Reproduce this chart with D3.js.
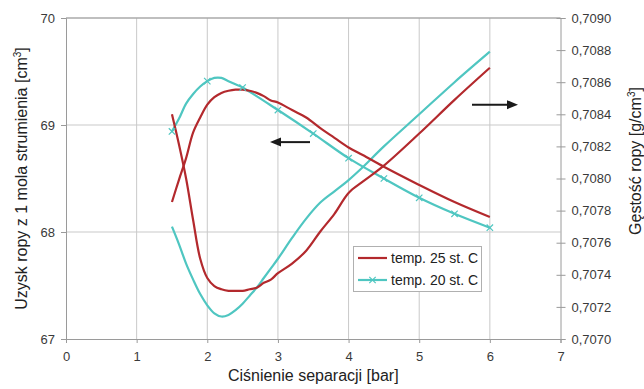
<!DOCTYPE html>
<html>
<head>
<meta charset="utf-8">
<script src="https://cdn.jsdelivr.net/npm/d3@7"></script>
<style>
  html, body { margin: 0; padding: 0; background: #fff; }
  svg { display: block; font-family: "Liberation Sans", Arial, sans-serif; }
</style>
</head>
<body>
<svg id="chart" width="644" height="389"></svg>
<script>
// Separator pressure [bar] for the densely sampled curves
const pressure = [1.5, 1.6, 1.7, 1.8, 1.9, 2.0, 2.1, 2.2, 2.3, 2.4, 2.5, 2.6, 2.7, 2.8, 2.9,
                  3.0, 3.2, 3.4, 3.6, 3.8, 4.0, 4.2, 4.5, 5.0, 5.5, 6.0];

// Oil yield per 1 mol of stream [cm3], 25 °C
const yield25 = [68.28, 68.49, 68.69, 68.93, 69.07, 69.19, 69.26, 69.30, 69.32, 69.33, 69.33, 69.32, 69.30,
                 69.27, 69.23, 69.21, 69.14, 69.07, 68.97, 68.88, 68.79, 68.72, 68.61, 68.44, 68.28, 68.14];

// Oil density [g/cm3], 25 °C
const density25 = [0.70840, 0.70821, 0.70800, 0.70774, 0.70750, 0.70738, 0.70733, 0.70731, 0.70730,
                   0.70730, 0.70730, 0.70731, 0.70732, 0.70735, 0.70737, 0.70741, 0.70747, 0.70755,
                   0.70767, 0.70778, 0.70791, 0.70798, 0.70808, 0.70828, 0.70849, 0.70869];

// Oil density [g/cm3], 20 °C
const density20 = [0.70770, 0.70759, 0.70747, 0.70737, 0.70728, 0.70721, 0.70716, 0.70714, 0.70715,
                   0.70718, 0.70722, 0.70727, 0.70732, 0.70738, 0.70744, 0.70750, 0.70763, 0.70775,
                   0.70785, 0.70792, 0.70799, 0.70807, 0.70820, 0.70840, 0.70860, 0.70879];

// Oil yield, 20 °C (measured every 0.5 bar, denser near the maximum)
const pressure20 = [1.5, 1.6, 1.7, 1.8, 1.9, 2.0, 2.1, 2.2, 2.3, 2.4, 2.5, 3.0, 3.5, 4.0, 4.5, 5.0, 5.5, 6.0];
const yield20 = [68.94, 69.06, 69.20, 69.29, 69.36, 69.41, 69.44, 69.44, 69.41, 69.38, 69.35,
                 69.14, 68.92, 68.69, 68.50, 68.32, 68.17, 68.04];

// Axis ticks
const xTicks = [0, 1, 2, 3, 4, 5, 6, 7];
const yLeftTicks = [67, 68, 69, 70];
const yRightTicks = [0.7070, 0.7072, 0.7074, 0.7076, 0.7078, 0.7080, 0.7082, 0.7084, 0.7086, 0.7088, 0.7090];

const seriesNames = ["temp. 25 st. C", "temp. 20 st. C"];
const colors = { t25: "#b3292d", t20: "#4fc6c1" };

const svg = d3.select("#chart");
const pLeft = 66, pRight = 560.5, pTop = 18, pBottom = 339;

const x = d3.scaleLinear().domain([0, 7]).range([pLeft, pRight]);
const yL = d3.scaleLinear().domain([67, 70]).range([pBottom, pTop]);
const yR = d3.scaleLinear().domain([0.7070, 0.7090]).range([pBottom, pTop]);

const grid = svg.append("g");
// vertical grid lines
grid.selectAll("line.v").data(xTicks.filter(t => t > 0 && t < 7)).join("line")
  .attr("x1", d => x(d)).attr("x2", d => x(d))
  .attr("y1", pTop).attr("y2", pBottom)
  .attr("stroke", "#c9c9c9").attr("stroke-width", 1);
// horizontal grid lines on the left scale
grid.selectAll("line.h").data(yLeftTicks.filter(t => t > 67)).join("line")
  .attr("x1", pLeft).attr("x2", pRight)
  .attr("y1", d => yL(d)).attr("y2", d => yL(d))
  .attr("stroke", "#c9c9c9").attr("stroke-width", 1);

const tickColor = "#9a9a9a";
const textColor = "#3a3a3a";

// bottom axis
const xAxis = svg.append("g").attr("transform", `translate(0,${pBottom})`)
  .call(d3.axisBottom(x).tickValues(xTicks).tickFormat(d3.format("d")).tickSize(4).tickPadding(9));
// left axis
const yAxisL = svg.append("g").attr("transform", `translate(${pLeft},0)`)
  .call(d3.axisLeft(yL).tickValues(yLeftTicks).tickFormat(d3.format("d")).tickSize(5).tickPadding(6));
// right axis
const commaFmt = d => d3.format(".4f")(d).replace(".", ",");
const yAxisR = svg.append("g").attr("transform", `translate(${pRight},0)`)
  .call(d3.axisRight(yR).tickValues(yRightTicks).tickFormat(commaFmt).tickSize(5).tickPadding(6));
yAxisR.selectAll(".tick line").attr("x1", -4);

[xAxis, yAxisL, yAxisR].forEach(a => {
  a.select(".domain").attr("stroke", tickColor).attr("stroke-width", 1);
  a.selectAll(".tick line").attr("stroke", tickColor);
  a.selectAll(".tick text").attr("fill", textColor).style("font-size", "13px")
    .style("font-family", "'Liberation Sans', Arial, sans-serif");
});
// top frame line
svg.append("line").attr("x1", pLeft).attr("x2", pRight).attr("y1", pTop).attr("y2", pTop)
  .attr("stroke", tickColor).attr("stroke-width", 1);

// curves
const lineL = (xs, ys) => d3.line().x((d, i) => x(xs[i])).y(d => yL(d)).curve(d3.curveCatmullRom.alpha(0.5))(ys);
const lineR = (xs, ys) => d3.line().x((d, i) => x(xs[i])).y(d => yR(d)).curve(d3.curveCatmullRom.alpha(0.5))(ys);

const plot = svg.append("g").attr("fill", "none").attr("stroke-width", 2.2)
  .attr("stroke-linejoin", "round").attr("stroke-linecap", "butt");
plot.append("path").attr("d", lineR(pressure, density20)).attr("stroke", colors.t20);
plot.append("path").attr("d", lineL(pressure20, yield20)).attr("stroke", colors.t20);
plot.append("path").attr("d", lineR(pressure, density25)).attr("stroke", colors.t25);
plot.append("path").attr("d", lineL(pressure, yield25)).attr("stroke", colors.t25);

// x-shaped markers on the 20 °C yield curve, every 0.5 bar
const markerPts = pressure20.map((p, i) => ({ p, v: yield20[i] }))
  .filter(d => Math.abs(d.p * 2 - Math.round(d.p * 2)) < 1e-9);
const cross = (cx, cy, s) => `M${cx - s},${cy - s}L${cx + s},${cy + s}M${cx - s},${cy + s}L${cx + s},${cy - s}`;
svg.append("g").selectAll("path").data(markerPts).join("path")
  .attr("d", d => cross(x(d.p), yL(d.v), 3.2))
  .attr("stroke", colors.t20).attr("stroke-width", 1.2).attr("fill", "none");

// arrows pointing to the relevant axis
const arrow = (x1, x2, yy) => {
  const dir = Math.sign(x2 - x1);
  const g = svg.append("g");
  g.append("line").attr("x1", x1).attr("x2", x2 - dir * 8).attr("y1", yy).attr("y2", yy)
    .attr("stroke", "#1a1a1a").attr("stroke-width", 2);
  g.append("path").attr("d", `M${x2},${yy}L${x2 - dir * 11},${yy - 4.5}L${x2 - dir * 11},${yy + 4.5}Z`)
    .attr("fill", "#1a1a1a");
};
arrow(310, 270, yL(68.84));
arrow(472, 518, yR(0.70846));

// legend
const lg = svg.append("g");
lg.append("rect").attr("x", 353.5).attr("y", 246.5).attr("width", 128).attr("height", 45)
  .attr("fill", "#fff").attr("stroke", "#b0b0b0").attr("stroke-width", 1);
const legendRows = [
  { name: seriesNames[0], color: colors.t25, marker: false, y: 258 },
  { name: seriesNames[1], color: colors.t20, marker: true, y: 280 }
];
legendRows.forEach(r => {
  lg.append("line").attr("x1", 358).attr("x2", 387).attr("y1", r.y).attr("y2", r.y)
    .attr("stroke", r.color).attr("stroke-width", 2.2);
  if (r.marker) lg.append("path").attr("d", cross(372.5, r.y, 3.2)).attr("stroke", r.color).attr("stroke-width", 1.2);
  lg.append("text").attr("x", 391).attr("y", r.y + 4.5).text(r.name)
    .attr("fill", "#222").style("font-size", "14px");
});

// axis titles
svg.append("text").attr("x", x(3.5)).attr("y", 381).attr("text-anchor", "middle")
  .attr("fill", "#222").style("font-size", "16px").text("Ciśnienie separacji [bar]");

const tl = svg.append("text").attr("transform", `translate(27,${(pTop + pBottom) / 2}) rotate(-90)`)
  .attr("text-anchor", "middle").attr("fill", "#222").style("font-size", "16px");
tl.append("tspan").text("Uzysk ropy z 1 mola strumienia [cm");
tl.append("tspan").attr("dy", -6).style("font-size", "10px").text("3");
tl.append("tspan").attr("dy", 6).text("]");

const tr = svg.append("text").attr("transform", `translate(641,161) rotate(-90)`)
  .attr("text-anchor", "middle").attr("fill", "#222").style("font-size", "16px");
tr.append("tspan").text("Gęstość ropy [g/cm");
tr.append("tspan").attr("dy", -6).style("font-size", "10px").text("3");
tr.append("tspan").attr("dy", 6).text("]");
</script>
</body>
</html>
